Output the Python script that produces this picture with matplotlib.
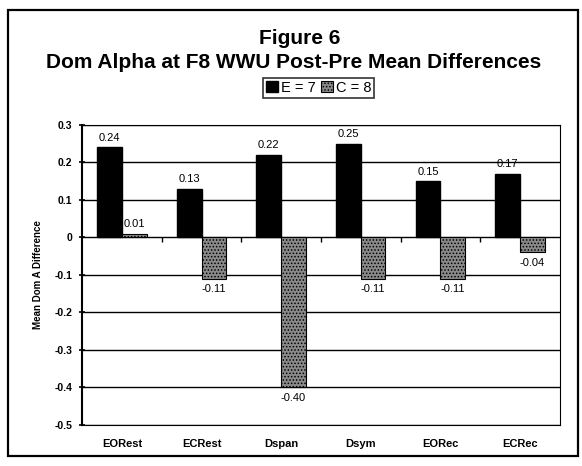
import numpy as np
import matplotlib
matplotlib.use('Agg')
import matplotlib.pyplot as plt
from matplotlib.patches import Rectangle

plt.rcParams['font.family'] = ['Liberation Sans', 'DejaVu Sans']
plt.rcParams['hatch.linewidth'] = 0.7

# data
categories = ['EORest', 'ECRest', 'Dspan', 'Dsym', 'EORec', 'ECRec']
e_vals = [0.24, 0.13, 0.22, 0.25, 0.15, 0.17]
c_vals = [0.01, -0.11, -0.40, -0.11, -0.11, -0.04]
series_names = ['E = 7', 'C = 8']
yticks = [0.3, 0.2, 0.1, 0, -0.1, -0.2, -0.3, -0.4, -0.5]
ytick_labels = ['0.3', '0.2', '0.1', '0', '-0.1', '-0.2', '-0.3', '-0.4', '-0.5']

fig = plt.figure(figsize=(5.82, 4.66), dpi=100)
ax = fig.add_axes([0.141, 0.088, 0.821, 0.644])

# outer frame around the whole chart
fig.patches.append(Rectangle((0.013, 0.022), 0.98, 0.957, transform=fig.transFigure,
                             fill=False, edgecolor='black', linewidth=1.6))

x = np.arange(len(categories))
w = 0.31
ax.bar(x - w / 2, e_vals, w, color='black', edgecolor='black', label=series_names[0], zorder=3)
ax.bar(x + w / 2, c_vals, w, color='#8a8a8a', edgecolor='black', hatch='.....',
       linewidth=0.8, label=series_names[1], zorder=3)

# value labels
for i, v in enumerate(e_vals):
    ax.text(x[i] - w / 2, v + 0.012, f'{v:.2f}', ha='center', va='bottom', fontsize=8, zorder=4)
for i, v in enumerate(c_vals):
    if v >= 0:
        ax.text(x[i] + w / 2, v + 0.012, f'{v:.2f}', ha='center', va='bottom', fontsize=8, zorder=4)
    else:
        ax.text(x[i] + w / 2, v - 0.015, f'{v:.2f}', ha='center', va='top', fontsize=8, zorder=4)

ax.set_ylim(-0.5, 0.3)
ax.set_xlim(-0.5, len(categories) - 0.5)
ax.set_yticks(yticks)
ax.set_yticklabels(ytick_labels, fontsize=7.5, fontweight='bold')
ax.set_xticks(x)
ax.set_xticklabels(categories, fontsize=8, fontweight='bold')
ax.tick_params(axis='x', length=0, pad=10)
ax.tick_params(axis='y', length=4, width=1.2, direction='inout', pad=5)

for t in yticks:
    ax.axhline(t, color='black', linewidth=1.0, zorder=1)

# small separators on the zero line
ax.vlines(x[1:] - 0.5, -0.012, 0, color='black', linewidth=1, zorder=2)

for s in ax.spines.values():
    s.set_linewidth(0.8)
ax.spines['left'].set_linewidth(1.5)

ax.set_ylabel('Mean Dom A Difference', fontsize=7, fontweight='bold', labelpad=8)

fig.text(0.515, 0.918, 'Figure 6', ha='center', va='center', fontsize=15, fontweight='bold')
fig.text(0.505, 0.866, 'Dom Alpha at F8 WWU Post-Pre Mean Differences', ha='center',
         va='center', fontsize=15, fontweight='bold')

leg = ax.legend(loc='center', bbox_to_anchor=(0.495, 1.123), ncol=2, frameon=True,
                fancybox=False, edgecolor='black', fontsize=10.5, handlelength=0.8,
                handleheight=0.8, handletextpad=0.2, columnspacing=0.4,
                borderpad=0.2, borderaxespad=0)
leg.get_frame().set_linewidth(1.2)

plt.savefig('out.png', dpi=100)
